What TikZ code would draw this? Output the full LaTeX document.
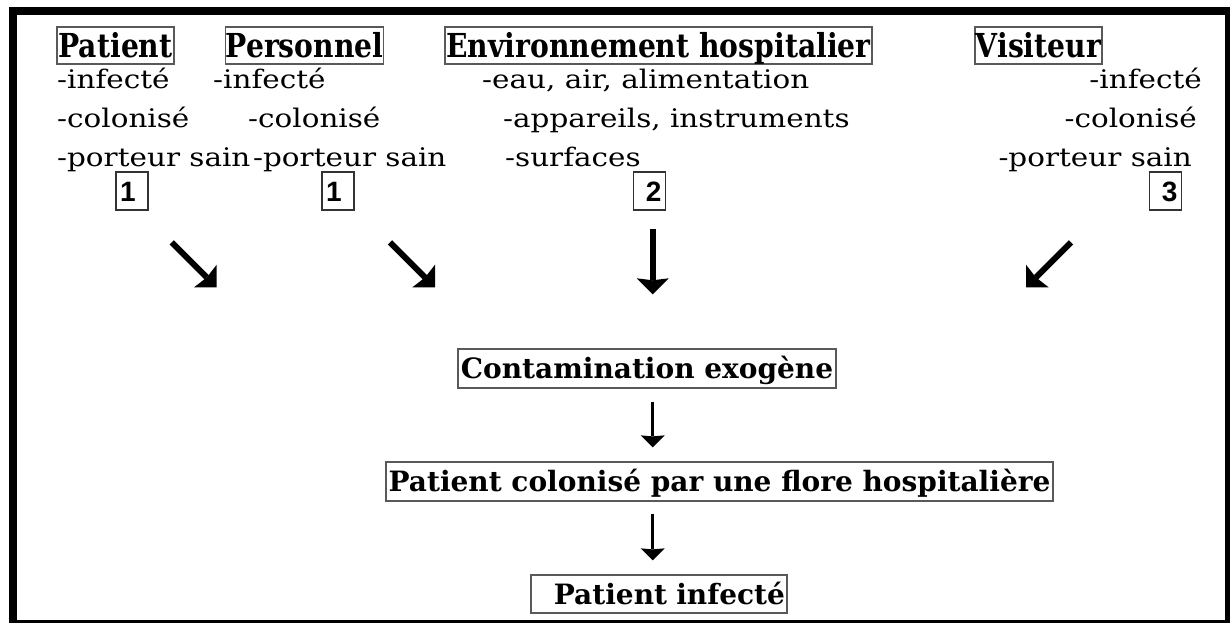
\documentclass[tikz,border=0pt]{standalone}
\usepackage{fontspec}
\setmainfont{DejaVu Serif}
\newfontfamily\bodyfont[FakeStretch=1.15]{DejaVu Serif}
\newfontfamily\headfont[FakeStretch=0.855]{DejaVu Serif}
\newfontfamily\numfont{Liberation Sans}
\usetikzlibrary{arrows.meta,calc}
\begin{document}
\begin{tikzpicture}[x=1pt,y=-1pt,
  body/.style={inner sep=0pt, font=\bodyfont\fontsize{25.6}{30}\selectfont},
  headbox/.style={draw=black!65, line width=1.3pt, inner sep=0pt, minimum height=37pt, text height=24pt, text depth=0pt, font=\headfont\bfseries\fontsize{33}{36}\selectfont},
  flowbox/.style={draw=black!65, line width=1.3pt, inner sep=0pt, text height=20.5pt, text depth=0pt, font=\bfseries\fontsize{28}{31}\selectfont},
  numbox/.style={draw=black!80, line width=1.2pt, inner sep=0pt, minimum width=32pt, minimum height=38pt, text height=20pt, text depth=0pt, font=\numfont\bfseries\fontsize{28}{31}\selectfont},
  bigarrow/.style={line width=6pt, -{Stealth[length=16pt,width=32pt,inset=2pt,line width=0pt]}},
  smallarrow/.style={line width=3.2pt, -{Stealth[length=12pt,width=24pt,inset=1pt,line width=0pt]}}
]
\useasboundingbox (0,0) rectangle (1230,623);
\clip (0,0) rectangle (1230,623);
\fill[white] (0,0) rectangle (1230,623);
% frame
\draw[line width=8pt] (13,11) rectangle (1229,624);

% headings
\node[headbox, minimum width=117pt] (hpat) at (115.5,45.5) {Patient};
\node[headbox, minimum width=157pt] (hpers) at (304.5,45.5) {Personnel};
\node[headbox, minimum width=427pt] (henv) at (658.5,45.5) {Environnement hospitalier};
\node[headbox, minimum width=127pt] (hvis) at (1038.5,45.5) {Visiteur};

% patient
\node[body, anchor=base west] (p1) at (57,89) {-infecté};
\node[body, anchor=base west] (p2) at (57,128) {-colonisé};
\node[body, anchor=base west] (p3) at (57,166.5) {-porteur sain};
% personnel
\node[body, anchor=base west] (s1) at (213,89) {-infecté};
\node[body, anchor=base west] (s2) at (248,128) {-colonisé};
\node[body, anchor=base west] (s3) at (253,166.5) {-porteur sain};
% environnement
\node[body, anchor=base west] (e1) at (482,89) {-eau, air, alimentation};
\node[body, anchor=base west] (e2) at (503,128) {-appareils, instruments};
\node[body, anchor=base west] (e3) at (505,166.5) {-surfaces};
% visiteur
\node[body, anchor=base east] (v1) at (1202,89) {-infecté};
\node[body, anchor=base east] (v2) at (1197,128) {-colonisé};
\node[body, anchor=base east] (v3) at (1192,166.5) {-porteur sain};

% numbers
\node[numbox] (n1) at (132,191) {\makebox[24pt][l]{1}};
\node[numbox] (n2) at (338,191) {\makebox[24pt][l]{1}};
\node[numbox] (n3) at (649.5,191) {\makebox[24pt][r]{2}};
\node[numbox] (n4) at (1165.5,191) {\makebox[24pt][r]{3}};

% big arrows
\coordinate (a1s) at (171.7,242.3); \coordinate (a1e) at (216.7,287.3);
\coordinate (a2s) at (390,242.3);   \coordinate (a2e) at (435,287.3);
\coordinate (a3s) at (652.7,229);   \coordinate (a3e) at (652.7,294.3);
\coordinate (a4s) at (1071,242.3);  \coordinate (a4e) at (1026,287.3);
\draw[bigarrow] (a1s) -- (a1e);
\draw[bigarrow] (a2s) -- (a2e);
\draw[bigarrow] (a3s) -- (a3e);
\draw[bigarrow] (a4s) -- (a4e);

% flow
\node[flowbox, minimum width=378pt, minimum height=39pt] (contam) at (647,368.5) {Contamination exogène};
\node[flowbox, minimum width=667pt, minimum height=39pt] (colon) at (719.5,481.5) {Patient colonisé par une flore hospitalière};
\node[flowbox, minimum width=256pt, minimum height=38pt, inner xsep=2pt, text width=252pt, align=right] (infect) at (659,594) {Patient infecté};

\coordinate (ax) at (652.7,0);
\draw[smallarrow, shorten <=13pt, shorten >=14pt] (contam.south -| ax) -- (colon.north -| ax);
\draw[smallarrow, shorten <=12pt, shorten >=14pt] (colon.south -| ax) -- (infect.north -| ax);
\end{tikzpicture}
\end{document}
